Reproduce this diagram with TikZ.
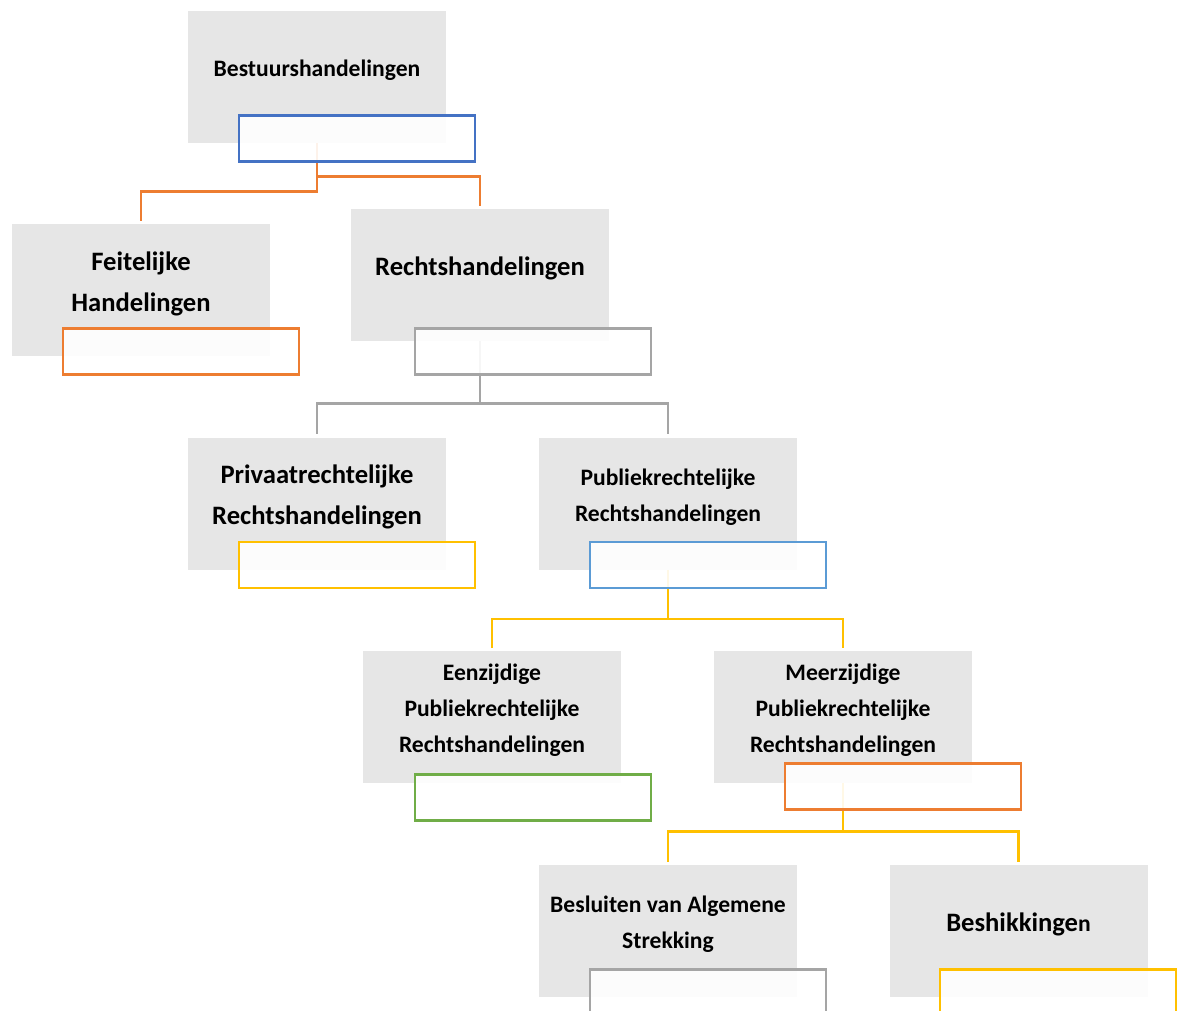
\documentclass[tikz,border=0pt]{standalone}
\usepackage{fontspec}
\setmainfont{Carlito}
\definecolor{vakgrijs}{HTML}{E6E6E6}
\definecolor{oranje}{HTML}{ED7D31}
\definecolor{blauw}{HTML}{4472C4}
\definecolor{lichtblauw}{HTML}{5B9BD5}
\definecolor{lijngrijs}{HTML}{A5A5A5}
\definecolor{geel}{HTML}{FFC000}
\definecolor{groen}{HTML}{70AD47}

\begin{document}
\begin{tikzpicture}[x=0.5pt, y=-0.5pt,
        vak/.style={fill=vakgrijs, minimum width=129pt, minimum height=66pt, inner sep=0pt},
        klein/.style={font=\bfseries\fontsize{11.8}{18}\selectfont, align=center, yshift=3.25pt},
        groot/.style={font=\bfseries\fontsize{13.3}{20.5}\selectfont, align=center, yshift=3.25pt},
        kader/.style={draw=#1, line width=1.1pt, fill=white, fill opacity=0.9,
            minimum width=118pt, minimum height=23pt, inner sep=0pt, anchor=north west},
        lijn/.style={draw=#1, line width=1.1pt, shorten >=1.5pt}]
        \useasboundingbox (0,0) rectangle (1178,1011);

        % grijze vakken met tekst
        \node[vak, label={[klein]center:Bestuurshandelingen}] (bestuur) at (317,77) {};
        \node[vak, label={[groot]center:Feitelijke\\Handelingen}] (feitelijk) at (141,290) {};
        \node[vak, label={[groot]center:Rechtshandelingen}] (rechts) at (480,275) {};
        \node[vak, label={[groot]center:Privaatrechtelijke\\Rechtshandelingen}] (privaat) at (317,503.5) {};
        \node[vak, label={[klein]center:Publiekrechtelijke\\Rechtshandelingen}] (publiek) at (668,503.5) {};
        \node[vak, label={[klein]center:Eenzijdige\\Publiekrechtelijke\\Rechtshandelingen}] (eenzijdig) at (492,717) {};
        \node[vak, label={[klein]center:Meerzijdige\\Publiekrechtelijke\\Rechtshandelingen}] (meerzijdig) at (843,717) {};
        \node[vak, label={[klein]center:Besluiten van Algemene\\Strekking}] (besluiten) at (668,931) {};
        \node[vak, label={[groot]center:Beshikkinge{\fontsize{11.8}{18}\selectfont n}}] (beschikking) at (1018.5,931) {};

        % verbindingslijnen (onder de kaders)
        \draw[lijn=oranje] (bestuur.south) -- ++(0,48) -| (feitelijk.north);
        \draw[lijn=oranje] (bestuur.south) -- ++(0,33) -| (rechts.north);
        \draw[lijn=lijngrijs] (rechts.south) -- ++(0,62) -| (privaat.north);
        \draw[lijn=lijngrijs] (rechts.south) -- ++(0,62) -| (publiek.north);
        \draw[lijn=geel] (publiek.south) -- ++(0,49) -| (eenzijdig.north);
        \draw[lijn=geel] (publiek.south) -- ++(0,49) -| (meerzijdig.north);
        \draw[lijn=geel] (meerzijdig.south) -- ++(0,48) -| (besluiten.north);
        \draw[lijn=geel] (meerzijdig.south) -- ++(0,48) -| (beschikking.north);

        % lege kaders, xshift/yshift vanaf de hoek linksonder
        \node[kader=blauw, xshift=25pt, yshift=14.5pt] (bestuur-k) at (bestuur.south west) {};
        \node[kader=oranje, xshift=25pt, yshift=14.5pt] (feitelijk-k) at (feitelijk.south west) {};
        \node[kader=lijngrijs, xshift=31.5pt, yshift=7pt] (rechts-k) at (rechts.south west) {};
        \node[kader=geel, xshift=25pt, yshift=14.5pt] (privaat-k) at (privaat.south west) {};
        \node[kader=lichtblauw, xshift=25pt, yshift=14.5pt] (publiek-k) at (publiek.south west) {};
        \node[kader=groen, xshift=25.5pt, yshift=5pt] (eenzijdig-k) at (eenzijdig.south west) {};
        \node[kader=oranje, xshift=35pt, yshift=10.5pt] (meerzijdig-k) at (meerzijdig.south west) {};
        \node[kader=lijngrijs, xshift=25pt, yshift=14.5pt] (besluiten-k) at (besluiten.south west) {};
        \node[kader=geel, xshift=25pt, yshift=14.5pt] (beschikking-k) at (beschikking.south west) {};
\end{tikzpicture}
\end{document}
